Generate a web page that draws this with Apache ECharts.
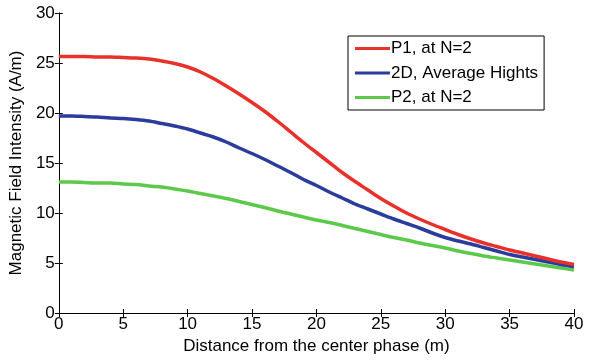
<!DOCTYPE html>
<html><head><meta charset="utf-8">
<script src="https://cdn.jsdelivr.net/npm/echarts@6/dist/echarts.min.js"></script>
<style>html,body{margin:0;padding:0;background:#fff}#c{width:591px;height:360px}</style>
</head><body><div id="c"></div>
<script>
const distance = [0,1,2,3,4,5,6,7,8,9,10,11,12,13,14,15,16,17,18,19,20,21,22,23,24,25,26,27,28,29,30,31,32,33,34,35,36,37,38,39,40];
const p1 = [25.65,25.65,25.65,25.6,25.6,25.55,25.5,25.4,25.2,24.95,24.6,24.1,23.45,22.7,21.9,21.05,20.15,19.15,18.1,17.05,16.05,15.05,14.05,13.15,12.3,11.45,10.7,10.0,9.4,8.85,8.35,7.85,7.4,7.0,6.65,6.3,6.0,5.7,5.4,5.1,4.85];
const avg2d = [19.7,19.7,19.65,19.6,19.5,19.45,19.35,19.2,18.95,18.7,18.4,18.0,17.6,17.1,16.5,15.95,15.35,14.7,14.05,13.35,12.75,12.1,11.5,10.9,10.4,9.9,9.4,8.95,8.5,8.0,7.55,7.2,6.9,6.55,6.2,5.85,5.6,5.35,5.1,4.85,4.65];
const p2 = [13.1,13.1,13.05,13.0,13.0,12.9,12.85,12.7,12.6,12.4,12.2,11.95,11.7,11.45,11.15,10.85,10.55,10.2,9.9,9.6,9.3,9.05,8.75,8.45,8.15,7.85,7.55,7.3,7.0,6.75,6.5,6.2,5.95,5.7,5.5,5.3,5.1,4.9,4.7,4.5,4.3];
const seriesNames = ['P1, at N=2','2D, Average Hights','P2, at N=2'];
const xTitle = 'Distance from the center phase (m)';
const yTitle = 'Magnetic Field Intensity (A/m)';

const colors = ['#e8312a','#2a3c9c','#5cc94a'];
const font = 'Liberation Sans, Arial, sans-serif';
const fs = 17;
const pairs = arr => distance.map((d,i)=>[d,arr[i]]);
const axCommon = {
  axisLine:{show:true,lineStyle:{color:'#000',width:1}},
  axisTick:{show:true,inside:true,length:4,lineStyle:{color:'#000'}},
  splitLine:{show:false}
};
const chart = echarts.init(document.getElementById('c'),null,{renderer:'canvas'});
chart.setOption({
  animation:false,
  backgroundColor:'#fff',
  grid:{left:57,right:17,top:13,bottom:46,containLabel:false},
  legend:{
    orient:'vertical',left:348,top:36,
    data:seriesNames,
    icon:'rect',itemWidth:35,itemHeight:3,itemGap:7.5,
    padding:[4,6,4,7],
    borderColor:'#000',borderWidth:1,backgroundColor:'#fff',
    textStyle:{fontFamily:font,fontSize:fs,color:'#000',padding:[0,0,0,-4]}
  },
  xAxis:[
    Object.assign({type:'value',min:0,max:40,interval:5,position:'bottom',
      name:xTitle,nameLocation:'middle',nameGap:25,
      nameTextStyle:{fontFamily:font,fontSize:fs,color:'#000'},
      axisLabel:{fontFamily:font,fontSize:fs,color:'#000',margin:3}},axCommon),
    Object.assign({type:'value',min:0,max:40,interval:5,position:'top',
      axisLabel:{show:false}},axCommon)
  ],
  yAxis:[
    Object.assign({type:'value',min:0,max:30,interval:5,position:'left',
      name:yTitle,nameLocation:'middle',nameGap:27,
      nameTextStyle:{fontFamily:font,fontSize:fs,color:'#000'},
      axisLabel:{fontFamily:font,fontSize:fs,color:'#000',margin:4}},axCommon),
    Object.assign({type:'value',min:0,max:30,interval:5,position:'right',
      axisLabel:{show:false}},axCommon)
  ],
  series:[
    {name:seriesNames[0],type:'line',data:pairs(p1),showSymbol:false,smooth:0.3,lineStyle:{width:3.5,color:colors[0]},itemStyle:{color:colors[0]},z:3},
    {name:seriesNames[1],type:'line',data:pairs(avg2d),showSymbol:false,smooth:0.3,lineStyle:{width:3.5,color:colors[1]},itemStyle:{color:colors[1]},z:2},
    {name:seriesNames[2],type:'line',data:pairs(p2),showSymbol:false,smooth:0.3,lineStyle:{width:3.5,color:colors[2]},itemStyle:{color:colors[2]},z:1}
  ]
});
</script></body></html>
